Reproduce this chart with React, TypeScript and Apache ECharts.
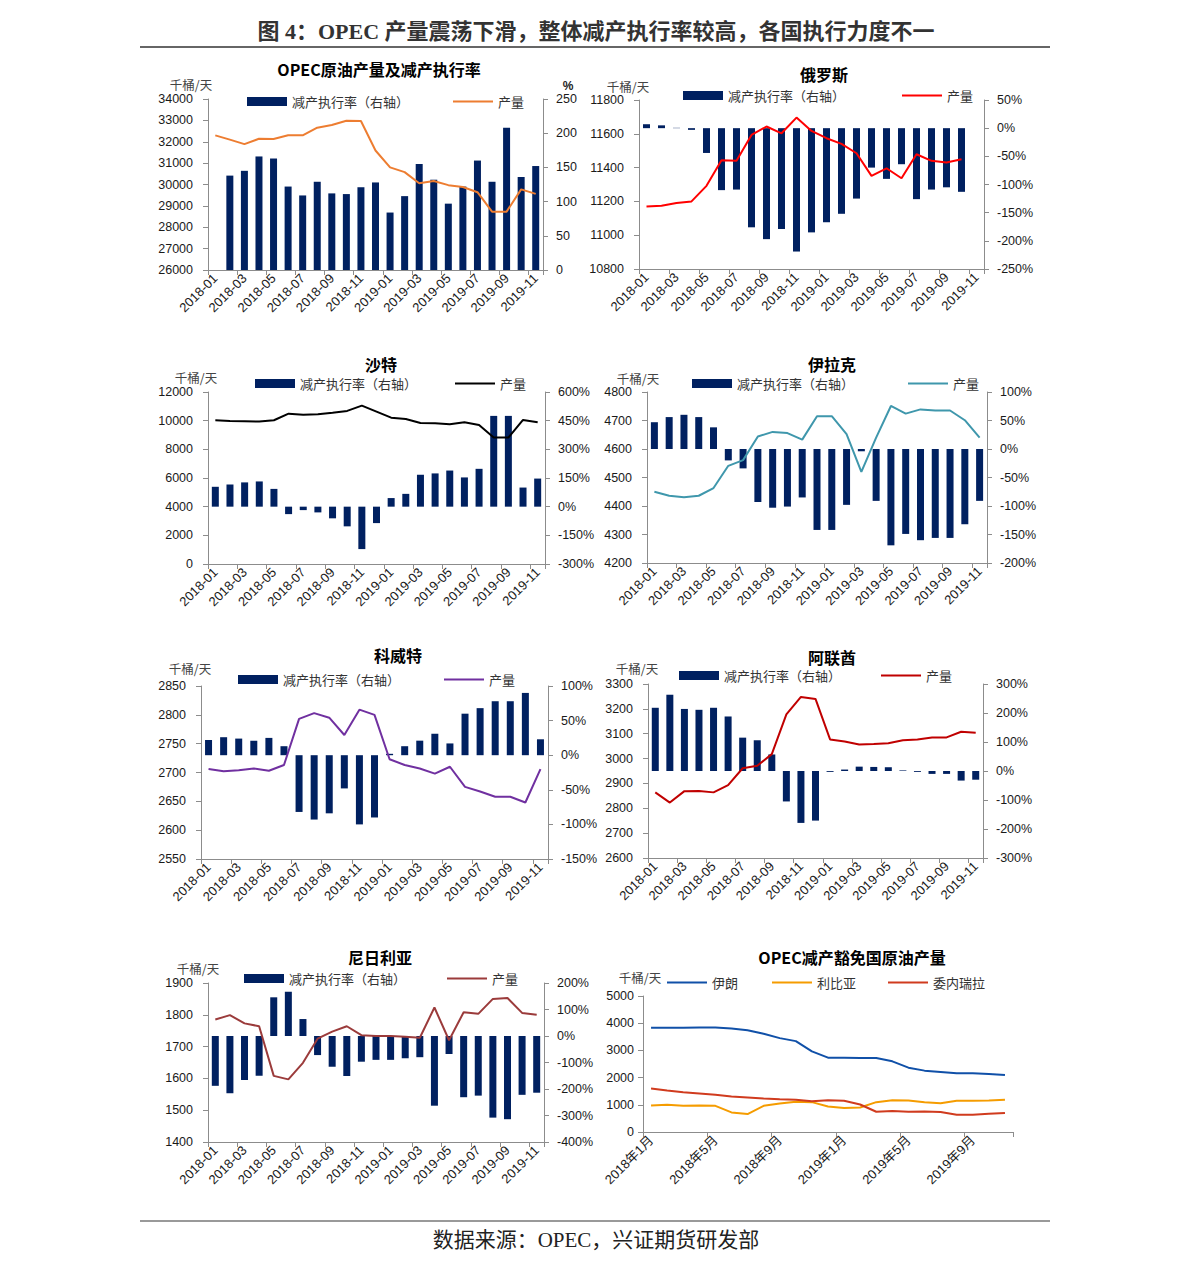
import React, { useEffect, useRef } from "react";
import * as echarts from "echarts";

// ---------- categories ----------
const months = [
  "2018-01", "2018-02", "2018-03", "2018-04", "2018-05", "2018-06", "2018-07", "2018-08",
  "2018-09", "2018-10", "2018-11", "2018-12", "2019-01", "2019-02", "2019-03", "2019-04",
  "2019-05", "2019-06", "2019-07", "2019-08", "2019-09", "2019-10", "2019-11",
];
const monthsCN = [
  "2018年1月", "2018年2月", "2018年3月", "2018年4月", "2018年5月", "2018年6月", "2018年7月", "2018年8月",
  "2018年9月", "2018年10月", "2018年11月", "2018年12月", "2019年1月", "2019年2月", "2019年3月", "2019年4月",
  "2019年5月", "2019年6月", "2019年7月", "2019年8月", "2019年9月", "2019年10月", "2019年11月",
];

// ---------- series values ----------
// OPEC
const opecProd = [32300, 32100, 31890, 32140, 32125, 32300, 32300, 32660, 32780, 32980, 32970, 31590, 30800, 30580, 30060, 30160, 29970, 29880, 29640, 28730, 28730, 29770, 29560];
const opecRate = ["-", 138, 145, 166, 163, 122, 109, 129, 112, 111, 121, 128, 84, 108, 155, 132, 97, 122, 160, 129, 208, 136, 152];
// Russia
const ruProd = [11170, 11174, 11190, 11200, 11292, 11444, 11440, 11593, 11643, 11603, 11696, 11617, 11574, 11540, 11485, 11351, 11396, 11337, 11479, 11440, 11430, 11450, "-"];
const ruRate = [7, 5, 0.6, -3, -44, -110, -109, -176, -197, -179, -219, -185, -167, -152, -125, -70, -90, -64, -126, -109, -105, -113, "-"];
// Saudi Arabia
const saProd = [10028, 9981, 9958, 9935, 10030, 10490, 10420, 10445, 10560, 10680, 11050, 10630, 10210, 10120, 9840, 9820, 9750, 9890, 9700, 8820, 8820, 10050, 9890];
const saRate = [104, 116, 127, 132, 93, -39, -18, -30, -61, -103, -222, -86, 45, 67, 167, 174, 189, 153, 198, 475, 475, 100, 147];
// Iraq
const iqProd = [4450, 4436, 4431, 4436, 4463, 4541, 4561, 4644, 4660, 4656, 4633, 4715, 4715, 4652, 4520, 4640, 4751, 4724, 4739, 4735, 4735, 4701, 4640];
const iqRate = [47, 56, 60, 56, 38, -20, -34, -93, -103, -101, -85, -142, -142, -98, -4, -91, -169, -149, -160, -156, -156, -132, -91];
// Kuwait
const kwProd = [2706, 2702, 2704, 2707, 2703, 2713, 2793, 2803, 2795, 2765, 2809, 2800, 2723, 2713, 2707, 2698, 2710, 2675, 2667, 2658, 2658, 2648, 2706];
const kwRate = [22, 26, 24, 21, 25, 13, -82, -93, -84, -48, -100, -90, 2, 13, 21, 31, 17, 60, 68, 78, 78, 90, 23];
// UAE
const aeProd = [2864, 2823, 2869, 2870, 2864, 2893, 2961, 2971, 3018, 3178, 3248, 3240, 3077, 3069, 3057, 3059, 3062, 3074, 3077, 3085, 3085, 3108, 3104];
const aeRate = [218, 263, 214, 211, 218, 188, 115, 106, 57, -105, -179, -171, -3, 5, 15, 14, 13, 2, -3, -10, -10, -33, -30];
// Nigeria
const ngProd = [1785, 1799, 1773, 1764, 1608, 1597, 1649, 1725, 1747, 1764, 1736, 1733, 1733, 1731, 1728, 1823, 1720, 1808, 1803, 1850, 1853, 1806, 1800];
const ngRate = [-188, -216, -166, -150, 146, 167, 64, -72, -116, -151, -97, -90, -90, -84, -80, -263, -68, -231, -225, -308, -314, -222, -214];
// Exempt countries
const iranProd = [3829, 3829, 3829, 3841, 3841, 3805, 3744, 3610, 3451, 3341, 2963, 2732, 2732, 2720, 2720, 2598, 2366, 2256, 2207, 2159, 2159, 2134, 2098];
const libyaProd = [976, 1000, 963, 976, 963, 720, 659, 963, 1049, 1110, 1098, 939, 878, 902, 1098, 1171, 1159, 1098, 1061, 1146, 1146, 1159, 1183];
const venProd = [1598, 1524, 1463, 1415, 1366, 1305, 1268, 1232, 1207, 1183, 1134, 1171, 1146, 1012, 744, 768, 744, 756, 732, 634, 634, 671, 695];

// ---------- texts ----------
const FIG_TITLE = "图 4：OPEC 产量震荡下滑，整体减产执行率较高，各国执行力度不一";
const FIG_SOURCE = "数据来源：OPEC，兴证期货研发部";
const UNIT = "千桶/天";
const BAR_NAME = "减产执行率（右轴）";
const LINE_NAME = "产量";
const EXEMPT_NAMES = ["伊朗", "利比亚", "委内瑞拉"];

const FONT = "'Liberation Sans', 'Noto Sans CJK SC', sans-serif";
const CJK = "'Noto Sans CJK SC', 'Liberation Sans', sans-serif";
const SERIF = "'Liberation Serif', 'Noto Sans CJK SC', serif";
const NAVY = "#002060";
const AXIS = "#8c8c8c";
const LABEL = "#1a1a1a";

type Panel = {
  title: string;
  titlePos: [number, number];
  unitPos: [number, number];
  grid: [number, number, number, number];
  left: [number, number, number];
  right: [number, number, number];
  pct: boolean;
  prod: any[];
  rate: any[];
  color: string;
  legBar: [number, number];
  legLine: [number, number];
};

const panels: Panel[] = [
  { title: "OPEC原油产量及减产执行率", titlePos: [379, 69], unitPos: [191, 84], grid: [208, 99, 335, 171], left: [26000, 34000, 1000], right: [0, 250, 50], pct: false, prod: opecProd, rate: opecRate, color: "#ED7D31", legBar: [247, 102], legLine: [453, 102] },
  { title: "俄罗斯", titlePos: [824, 74], unitPos: [628, 86], grid: [639, 100, 345, 169], left: [10800, 11800, 200], right: [-250, 50, 50], pct: true, prod: ruProd, rate: ruRate, color: "#FF0000", legBar: [683, 96], legLine: [902, 96] },
  { title: "沙特", titlePos: [381, 364], unitPos: [196, 377], grid: [208, 392, 337, 172], left: [0, 12000, 2000], right: [-300, 600, 150], pct: true, prod: saProd, rate: saRate, color: "#000000", legBar: [255, 384], legLine: [455, 384] },
  { title: "伊拉克", titlePos: [832, 364], unitPos: [638, 378], grid: [647, 392, 340, 171], left: [4200, 4800, 100], right: [-200, 100, 50], pct: true, prod: iqProd, rate: iqRate, color: "#3F97AC", legBar: [692, 384], legLine: [908, 384] },
  { title: "科威特", titlePos: [398, 655], unitPos: [190, 668], grid: [201, 686, 347, 173], left: [2550, 2850, 50], right: [-150, 100, 50], pct: true, prod: kwProd, rate: kwRate, color: "#7030A0", legBar: [238, 680], legLine: [444, 680] },
  { title: "阿联酋", titlePos: [832, 657], unitPos: [637, 668], grid: [648, 684, 335, 174], left: [2600, 3300, 100], right: [-300, 300, 100], pct: true, prod: aeProd, rate: aeRate, color: "#C00000", legBar: [679, 676], legLine: [881, 676] },
  { title: "尼日利亚", titlePos: [380, 957], unitPos: [198, 968], grid: [208, 983, 336, 159], left: [1400, 1900, 100], right: [-400, 200, 100], pct: true, prod: ngProd, rate: ngRate, color: "#9B3B3B", legBar: [244, 979], legLine: [447, 979] },
];

const exempt = {
  title: "OPEC减产豁免国原油产量",
  titlePos: [852, 957] as [number, number],
  unitPos: [640, 977] as [number, number],
  grid: [643, 996, 370, 136],
  series: [iranProd, libyaProd, venProd],
  colors: ["#1050A8", "#F59C00", "#D03B1E"],
  legPos: [[667, 983], [772, 983], [888, 983]],
};

const plain = (v: number) => String(v);

function buildOption() {
  const grid: any[] = [];
  const xAxis: any[] = [];
  const yAxis: any[] = [];
  const series: any[] = [];
  const legend: any[] = [];
  const graphic: any[] = [];

  const axisLine = { show: true, onZero: false, lineStyle: { color: AXIS, width: 1 } };
  const axisTick = { show: true, length: 5, lineStyle: { color: AXIS, width: 1 } };
  const legText = { fontSize: 13, color: "#333", fontFamily: CJK };
  const xLabel = { rotate: 45, fontSize: 13, color: LABEL, margin: 6, fontFamily: FONT };
  const yLabel = { fontSize: 12.5, color: LABEL, fontFamily: FONT };

  const text = (t: string, x: number, y: number, size: number, weight: string, family: string, fill = "#111") => ({
    type: "text",
    x,
    y,
    style: { text: t, fill, fontSize: size, fontWeight: weight, fontFamily: family, align: "center", verticalAlign: "middle" },
  });

  panels.forEach((p, i) => {
    grid.push({ left: p.grid[0], top: p.grid[1], width: p.grid[2], height: p.grid[3], containLabel: false });
    xAxis.push({
      type: "category",
      gridIndex: i,
      data: months,
      boundaryGap: true,
      axisLine,
      axisTick: { ...axisTick, interval: 1 },
      axisLabel: { ...xLabel, interval: 1 },
      splitLine: { show: false },
    });
    yAxis.push({
      type: "value",
      gridIndex: i,
      position: "left",
      min: p.left[0],
      max: p.left[1],
      interval: p.left[2],
      axisLine,
      axisTick,
      splitLine: { show: false },
      axisLabel: { ...yLabel, margin: 15, formatter: plain },
    });
    yAxis.push({
      type: "value",
      gridIndex: i,
      position: "right",
      min: p.right[0],
      max: p.right[1],
      interval: p.right[2],
      axisLine,
      axisTick,
      splitLine: { show: false },
      axisLabel: { ...yLabel, margin: 13, formatter: p.pct ? "{value}%" : plain },
    });
    series.push({
      type: "bar",
      name: BAR_NAME,
      xAxisIndex: i,
      yAxisIndex: 2 * i + 1,
      data: p.rate,
      barWidth: 7,
      itemStyle: { color: NAVY },
    });
    series.push({
      type: "line",
      name: LINE_NAME,
      xAxisIndex: i,
      yAxisIndex: 2 * i,
      data: p.prod,
      symbol: "none",
      lineStyle: { width: 2, color: p.color },
      itemStyle: { color: p.color },
      connectNulls: false,
    });
    legend.push({
      left: p.legBar[0],
      top: p.legBar[1] - 7,
      padding: 0,
      selectedMode: false,
      itemWidth: 40,
      itemHeight: 9,
      textStyle: legText,
      data: [{ name: BAR_NAME, icon: "rect", itemStyle: { color: NAVY } }],
    });
    legend.push({
      left: p.legLine[0],
      top: p.legLine[1] - 7,
      padding: 0,
      selectedMode: false,
      itemWidth: 40,
      itemHeight: 2,
      textStyle: legText,
      data: [{ name: LINE_NAME, icon: "rect", itemStyle: { color: p.color } }],
    });
    graphic.push(text(p.title, p.titlePos[0], p.titlePos[1], 16, "bold", CJK, "#000"));
    graphic.push(text(UNIT, p.unitPos[0], p.unitPos[1], 12.5, "normal", CJK, "#444"));
  });

  // exempt panel
  const gi = panels.length;
  grid.push({ left: exempt.grid[0], top: exempt.grid[1], width: exempt.grid[2], height: exempt.grid[3], containLabel: false });
  xAxis.push({
    type: "category",
    gridIndex: gi,
    data: monthsCN,
    boundaryGap: true,
    axisLine,
    axisTick: { ...axisTick, interval: 3 },
    axisLabel: { ...xLabel, interval: 3 },
    splitLine: { show: false },
  });
  yAxis.push({
    type: "value",
    gridIndex: gi,
    position: "left",
    min: 0,
    max: 5000,
    interval: 1000,
    axisLine,
    axisTick,
    splitLine: { show: false },
    axisLabel: { ...yLabel, margin: 9, formatter: plain },
  });
  exempt.series.forEach((d, k) => {
    series.push({
      type: "line",
      name: EXEMPT_NAMES[k],
      xAxisIndex: gi,
      yAxisIndex: 2 * gi,
      data: d,
      symbol: "none",
      lineStyle: { width: 2, color: exempt.colors[k] },
      itemStyle: { color: exempt.colors[k] },
    });
    legend.push({
      left: exempt.legPos[k][0],
      top: exempt.legPos[k][1] - 7,
      padding: 0,
      selectedMode: false,
      itemWidth: 40,
      itemHeight: 2,
      textStyle: legText,
      data: [{ name: EXEMPT_NAMES[k], icon: "rect", itemStyle: { color: exempt.colors[k] } }],
    });
  });
  graphic.push(text(exempt.title, exempt.titlePos[0], exempt.titlePos[1], 16, "bold", CJK, "#000"));
  graphic.push(text(UNIT, exempt.unitPos[0], exempt.unitPos[1], 12.5, "normal", CJK, "#444"));

  // OPEC right axis unit
  graphic.push(text("%", 568, 86, 12, "bold", FONT, "#222"));

  // figure title, rules and source
  graphic.push(text(FIG_TITLE, 596, 31, 22, "bold", SERIF, "#333"));
  graphic.push({ type: "line", shape: { x1: 140, y1: 47, x2: 1050, y2: 47 }, style: { stroke: "#333", lineWidth: 1.5 } });
  graphic.push({ type: "line", shape: { x1: 140, y1: 1221, x2: 1050, y2: 1221 }, style: { stroke: "#777", lineWidth: 1.5 } });
  graphic.push(text(FIG_SOURCE, 596, 1240, 21, "normal", SERIF, "#222"));

  return {
    animation: false,
    backgroundColor: "#ffffff",
    textStyle: { fontFamily: FONT },
    grid,
    xAxis,
    yAxis,
    series,
    legend,
    graphic: { elements: graphic },
  };
}

export default function App() {
  const ref = useRef<HTMLDivElement>(null);
  useEffect(() => {
    if (!ref.current) return;
    const chart = echarts.init(ref.current, undefined, { renderer: "svg" });
    chart.setOption(buildOption() as any);
    return () => chart.dispose();
  }, []);
  return (
    <div
      ref={ref}
      style={{ position: "absolute", left: 0, top: 0, width: 1191, height: 1271, background: "#fff" }}
    />
  );
}
